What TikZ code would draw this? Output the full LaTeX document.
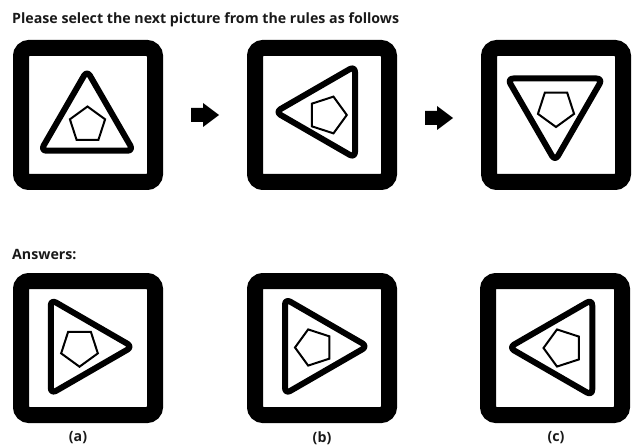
\documentclass[tikz,border=0pt]{standalone}
\usepackage{fontspec}
\setmainfont{Open Sans}
\usetikzlibrary{calc}
\newcommand\mytri[3]{\draw[tri] ($(#1)+(#2:#3)$) -- ($(#1)+(#2+120:#3)$) -- ($(#1)+(#2+240:#3)$) -- cycle;}
\newcommand\mypent[3]{\draw[pent] ($(#1)+(#2:#3)$) -- ($(#1)+(#2+72:#3)$) -- ($(#1)+(#2+144:#3)$) -- ($(#1)+(#2+216:#3)$) -- ($(#1)+(#2+288:#3)$) -- cycle;}
\begin{document}
\begin{tikzpicture}[x=1pt,y=-1pt,
  frame/.style={draw=black, line width=16pt, rounded corners=8pt, minimum width=134pt, minimum height=134pt, inner sep=0pt, outer sep=0pt},
  tri/.style={draw=black, line width=6pt, rounded corners=6pt, line join=round},
  pent/.style={draw=black, line width=2pt, line join=miter},
  arr/.style={fill=black},
  txt/.style={font=\bfseries\fontsize{14.2}{16}\selectfont, text=black!90, inner sep=0pt}
]
\useasboundingbox (0,0) rectangle (636,446);
% texts
\node[txt, anchor=base west] (title) at (12,23.3) {Please select the next picture from the rules as follows};
\node[txt, anchor=base west] (ans) at (12,259.3) {Answers:};
\node[txt] (la) at (78,438) {(a)};
\node[txt] (lb) at (322,438) {(b)};
\node[txt] (lc) at (556,438) {(c)};
% frames
\node[frame] (p1) at (88,115) {};
\node[frame] (p2) at (322,115) {};
\node[frame] (p3) at (556,115) {};
\node[frame] (pa) at (88,348) {};
\node[frame] (pb) at (322,348) {};
\node[frame] (pc) at (555,348) {};
% centres
\coordinate (t1) at (87,124);
\coordinate (q1) at (87.5,125);
\coordinate (t2) at (328.5,112);
\coordinate (q2) at (327.5,115);
\coordinate (t3) at (555,106);
\coordinate (q3) at (556,108);
\coordinate (ta) at (78,346.7);
\coordinate (qa) at (79.5,347.4);
\coordinate (tb) at (312.5,346.3);
\coordinate (qb) at (314,347.5);
\coordinate (tc) at (564.5,347.5);
\coordinate (qc) at (563,348);
% triangles
\mytri{t1}{270}{53.5}
\mytri{t2}{180}{53}
\mytri{t3}{90}{55}
\mytri{ta}{0}{54.5}
\mytri{tb}{0}{55}
\mytri{tc}{180}{55.5}
% pentagons
\mypent{q1}{270}{18.5}
\mypent{q2}{0}{19.3}
\mypent{q3}{90}{19}
\mypent{qa}{90}{19.3}
\mypent{qb}{180}{19}
\mypent{qc}{180}{19.5}
% arrows
\coordinate (ar1) at (205,115);
\coordinate (ar2) at (439,118);
\fill[arr] (ar1) ++(-14,-7) -- ++(12,0) -- ++(0,-5) -- ++(16,12) -- ++(-16,12) -- ++(0,-5) -- ++(-12,0) -- cycle;
\fill[arr] (ar2) ++(-14,-7) -- ++(12,0) -- ++(0,-5) -- ++(16,12) -- ++(-16,12) -- ++(0,-5) -- ++(-12,0) -- cycle;
\end{tikzpicture}
\end{document}
